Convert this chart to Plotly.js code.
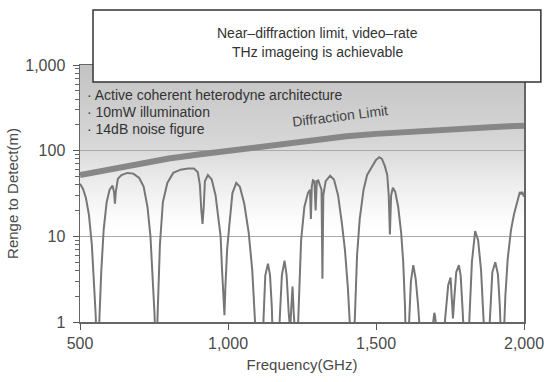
<!DOCTYPE html>
<html>
<head>
<meta charset="utf-8">
<script src="https://cdn.plot.ly/plotly-3.0.1.min.js"></script>
<style>html,body{margin:0;padding:0;background:#fff;}#chart{width:544px;height:382px;}</style>
</head>
<body>
<div id="chart"></div>
<script>
// Atmospheric-attenuation-limited detection range (m) vs frequency (GHz)
const freqGHz = [500,510,520,530,540,548,553,556,562,566,572,580,590,600,610,615,618,621,628,640,660,680,700,715,728,738,746,752,755,759,763,770,780,795,815,840,865,885,898,905,910,914,918,922,932,945,958,968,972,975,980,985,988,991,997,1005,1015,1028,1040,1055,1070,1082,1090,1096,1116,1120,1126,1135,1142,1148,1152,1170,1175,1182,1191,1198,1205,1210,1214,1218,1222,1228,1236,1240,1247,1258,1270,1277,1280,1283,1287,1292,1296,1300,1305,1310,1316,1319,1322,1330,1345,1358,1372,1385,1395,1405,1412,1416,1425,1430,1436,1445,1458,1470,1488,1500,1511,1520,1530,1538,1543,1547,1551,1557,1565,1575,1585,1592,1598,1601,1608,1612,1618,1626,1634,1642,1648,1690,1694,1697,1700,1704,1730,1736,1744,1752,1756,1760,1764,1771,1780,1786,1792,1797,1813,1818,1824,1835,1845,1855,1862,1866,1882,1886,1893,1903,1912,1918,1922,1932,1937,1945,1956,1966,1973,1980,1986,1990,1994,2000];
const rangeM = [41,36,28,18,8,3,1.2,0.5,0.5,1.2,4,12,25,35,39,33,24,33,47,52,55,54,48,38,22,10,3.5,1.2,0.5,0.5,1.5,8,25,42,55,60,62,62,56,40,20,14,22,44,52,46,30,16,11,10,4,1.5,1.2,2.5,7,14,32,42,38,24,11,4,1.5,0.5,0.5,1.2,3.5,4.8,3.5,1.5,0.5,0.5,1.2,3.5,5.2,3.5,1.3,0.8,1.5,2.6,1.3,0.6,0.8,2,9,22,32,35,16,38,45,44,20,44,45,40,35,3.2,30,44,51,46,30,14,7,2.5,1,0.5,0.5,1.5,6,16,35,52,67,78,84,80,66,52,30,10.5,30,37,33,22,11,5,1.5,0.5,0.5,1.2,3,4.6,3.2,1.6,0.8,0.8,1.1,1.28,1.15,0.8,0.8,1.5,2.7,3.3,2,1.1,1.8,3.8,4.6,3.5,1.5,0.7,0.7,1.5,5,11.5,9,4,1.5,0.7,0.7,1.5,3.8,5,3.6,1.6,0.7,0.7,2,5.5,11.8,18,22,28,33,31,33,29];

// Diffraction limit curve
const diffFreqGHz = [500,600,700,800,900,1000,1100,1200,1300,1400,1500,1600,1700,1800,1900,2000];
const diffRangeM  = [52,61,71,81,90,100,111,123,137,147,157,166,174,182,189,196];

// Axis ticks
const xTickVals = [500,1000,1500,2000];
const yRangeLog = [0,3];   // 1 .. 1,000 m

// Texts
const boxLines = ["Near\u2013diffraction limit, video\u2013rate","THz imageing is achievable"];
const bulletLines = ["\u00b7 Active coherent heterodyne architecture","\u00b7 10mW illumination","\u00b7 14dB noise figure"];
const diffLabel = "Diffraction Limit";

const gradSvg = '<svg xmlns="http://www.w3.org/2000/svg" width="10" height="100" viewBox="0 0 10 100" preserveAspectRatio="none">' +
  '<defs><linearGradient id="g" x1="0" y1="0" x2="0" y2="1">' +
  '<stop offset="0" stop-color="#c3c3c3"/><stop offset="0.08" stop-color="#c8c8c8"/>' +
  '<stop offset="0.3" stop-color="#d6d6d6"/><stop offset="0.4" stop-color="#e4e4e4"/>' +
  '<stop offset="0.48" stop-color="#efefef"/><stop offset="0.6" stop-color="#fcfcfc"/>' +
  '<stop offset="0.66" stop-color="#ffffff"/></linearGradient></defs>' +
  '<rect x="0" y="0" width="10" height="100" fill="url(#g)"/></svg>';
const gradSrc = 'data:image/svg+xml;charset=utf-8,' + encodeURIComponent(gradSvg);

const FONT = '"Liberation Sans", Arial, sans-serif';

const traces = [
  {x: diffFreqGHz, y: diffRangeM, type:'scatter', mode:'lines',
   line:{color:'#878787', width:6}, hoverinfo:'skip', showlegend:false},
  {x: freqGHz, y: rangeM, type:'scatter', mode:'lines',
   line:{color:'#777777', width:2}, showlegend:false}
];

const annotations = [
  {text: boxLines[0], xref:'paper', yref:'paper', x:0.534, y:1.1245, showarrow:false, font:{size:14, color:'#333'}, xanchor:'center', yanchor:'middle'},
  {text: boxLines[1], xref:'paper', yref:'paper', x:0.534, y:1.0506, showarrow:false, font:{size:14, color:'#333'}, xanchor:'center', yanchor:'middle'},
  {text: diffLabel, xref:'paper', yref:'paper', x:0.585, y:0.80, showarrow:false, textangle:-7, font:{size:14, color:'#444'}, xanchor:'center', yanchor:'middle'}
];
const bulletY = [0.883, 0.817, 0.751];
bulletLines.forEach((t,i)=>annotations.push({text:t, xref:'paper', yref:'paper', x:0.012, y:bulletY[i], showarrow:false, font:{size:14, color:'#333'}, xanchor:'left', yanchor:'middle'}));

const layout = {
  width:544, height:382,
  margin:{l:80, r:20, t:65, b:60},
  paper_bgcolor:'#ffffff', plot_bgcolor:'rgba(0,0,0,0)',
  font:{family:FONT, color:'#444'},
  showlegend:false,
  xaxis:{range:[500,2000], tickmode:'array', tickvals:xTickVals, tickformat:',', ticks:'outside', ticklen:6, tickcolor:'#555',
         showline:true, linecolor:'#666', linewidth:1.5, mirror:true, showgrid:false, zeroline:false,
         tickfont:{size:16, color:'#4a4a4a'}, ticklabelstandoff:0, ticklabeloverflow:'allow',
         title:{text:'Frequency(GHz)', font:{size:15, color:'#4a4a4a'}, standoff:9}},
  yaxis:{type:'log', range:yRangeLog, tickmode:'linear', tick0:0, dtick:1, tickformat:',d', ticks:'outside', ticklen:6, tickcolor:'#555',
         showline:true, linecolor:'#666', linewidth:1.5, mirror:true, showgrid:true, gridcolor:'#aaaaaa', gridwidth:1, zeroline:false,
         tickfont:{size:16, color:'#4a4a4a'}, ticklabelstandoff:4,
         minor:{ticks:'outside', ticklen:4, tickcolor:'#666', dtick:'D1', showgrid:false},
         title:{text:'Renge to Detect(m)', font:{size:15, color:'#4a4a4a'}, standoff:3}},
  images:[{source:gradSrc, xref:'paper', yref:'paper', x:0, y:1, sizex:1, sizey:1, sizing:'stretch', layer:'below', xanchor:'left', yanchor:'top'}],
  shapes:[{type:'rect', xref:'paper', yref:'paper', x0:0.0293, x1:1.038, y0:0.934, y1:1.214,
           fillcolor:'#ffffff', line:{color:'#333', width:1.5}, layer:'above'}],
  annotations: annotations
};

Plotly.newPlot('chart', traces, layout, {displayModeBar:false, staticPlot:true});
</script>
</body>
</html>
